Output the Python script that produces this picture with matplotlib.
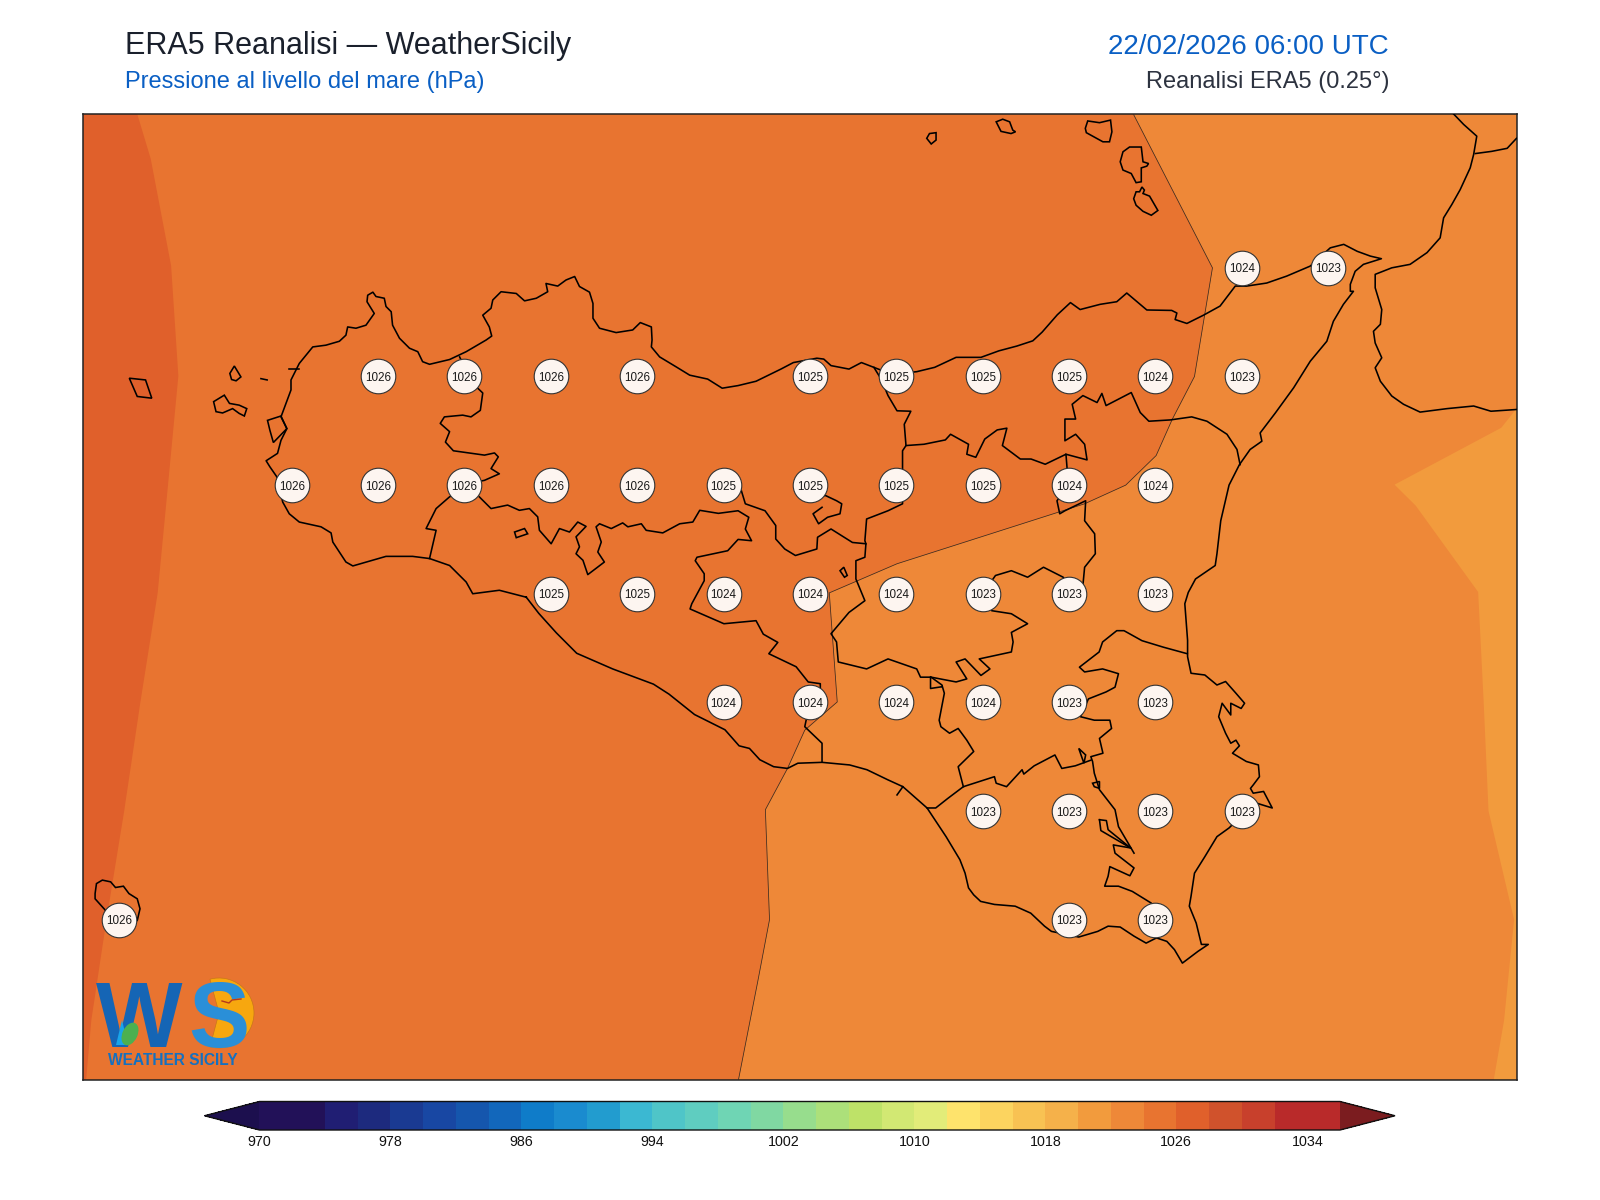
import numpy as np
import matplotlib
matplotlib.use('Agg')
import matplotlib.pyplot as plt
from matplotlib.colors import ListedColormap, BoundaryNorm
from matplotlib.colorbar import ColorbarBase
from matplotlib.patches import Wedge, Ellipse, Polygon

plt.rcParams['font.family'] = ['Liberation Sans', 'DejaVu Sans']

# Map extent
lon_min, lon_max = 11.896, 16.045
lat_min, lat_max = 36.381, 38.604

# Colour scale
levels = np.arange(970, 1038, 2)
band_colors = ['#221158', '#221158', '#201e73', '#1d2a7e', '#1a3a92', '#1847a3', '#1556ad', '#1267bb', '#0f7cc9',
               '#1a8bcf', '#229ccf', '#3bb8d2', '#4fc5c8', '#5fcdc0', '#6fd5b4', '#80d8a2', '#97dd8d', '#ace07a',
               '#bee268', '#d2e873', '#e2ec79', '#fee36c', '#fcd45f', '#f8c253', '#f5b14a', '#f29b3d', '#ee8838',
               '#e87430', '#e0602b', '#d0522c', '#c8402c', '#b92a2a', '#b92a2a']
under_color = '#1c0f4e'
over_color = '#7b1c1f'
cbar_ticks = np.arange(970, 1036, 8)

# Grid point readings
station_lon = [15.25, 15.5,
               12.75, 13.0, 13.25, 13.5, 14.0, 14.25, 14.5, 14.75, 15.0, 15.25,
               12.5, 12.75, 13.0, 13.25, 13.5, 13.75, 14.0, 14.25, 14.5, 14.75, 15.0,
               13.25, 13.5, 13.75, 14.0, 14.25, 14.5, 14.75, 15.0,
               13.75, 14.0, 14.25, 14.5, 14.75, 15.0,
               14.5, 14.75, 15.0, 15.25,
               12.0, 14.75, 15.0]
station_lat = [38.25] * 2 + [38.0] * 10 + [37.75] * 11 + [37.5] * 8 + [37.25] * 6 + [37.0] * 4 + [36.75] * 3
station_hpa = [1024, 1023,
               1026, 1026, 1026, 1026, 1025, 1025, 1025, 1025, 1024, 1023,
               1026, 1026, 1026, 1026, 1026, 1025, 1025, 1025, 1025, 1024, 1024,
               1025, 1025, 1024, 1024, 1024, 1023, 1023, 1023,
               1024, 1024, 1024, 1024, 1023, 1023,
               1023, 1023, 1023, 1023,
               1026, 1023, 1023]

# Isobars, north to south
isobar_1026 = [(12.053, 38.604), (12.092, 38.501), (12.151, 38.255), (12.172, 38.001), (12.142, 37.750),
               (12.112, 37.501), (12.062, 37.250), (12.015, 36.999), (11.964, 36.750), (11.920, 36.518),
               (11.905, 36.381)]
isobar_1024 = [(14.936, 38.604), (15.165, 38.25), (15.113, 38.0), (15.049, 37.902), (15.002, 37.818),
               (14.914, 37.75), (14.795, 37.707), (14.252, 37.569), (14.056, 37.502), (14.079, 37.251),
               (13.985, 37.186), (13.935, 37.098), (13.871, 37.003), (13.883, 36.75), (13.850, 36.612),
               (13.793, 36.381)]
isobar_1022 = [(16.045, 37.926), (16.001, 37.882), (15.692, 37.751), (15.753, 37.703), (15.934, 37.504),
               (15.950, 37.25), (15.964, 37.0), (16.038, 36.75), (16.009, 36.518), (15.979, 36.381)]

# Sicily, clockwise from Sciacca
sicily_coast = [
    (13.179, 37.492), (13.101, 37.508), (13.024, 37.500), (13.005, 37.527), (12.957, 37.565), (12.899, 37.581),
    (12.850, 37.586), (12.773, 37.586), (12.677, 37.564), (12.657, 37.573), (12.619, 37.619), (12.614, 37.640),
    (12.585, 37.654), (12.522, 37.665), (12.493, 37.684), (12.474, 37.711), (12.457, 37.769), (12.437, 37.792),
    (12.426, 37.806), (12.459, 37.823), (12.469, 37.853), (12.486, 37.880), (12.469, 37.907), (12.498, 37.969),
    (12.498, 37.992), (12.522, 38.030), (12.561, 38.068), (12.599, 38.072), (12.638, 38.081), (12.657, 38.095),
    (12.662, 38.114), (12.686, 38.111), (12.715, 38.118), (12.739, 38.145), (12.718, 38.172), (12.720, 38.187),
    (12.735, 38.194), (12.744, 38.184), (12.768, 38.180), (12.773, 38.161), (12.788, 38.149), (12.792, 38.118),
    (12.812, 38.088), (12.841, 38.065), (12.865, 38.057), (12.879, 38.034), (12.899, 38.028), (12.957, 38.039),
    (13.005, 38.057), (13.063, 38.084), (13.079, 38.093), (13.072, 38.114), (13.053, 38.141), (13.077, 38.157),
    (13.082, 38.176), (13.106, 38.195), (13.150, 38.191), (13.174, 38.174), (13.208, 38.180), (13.241, 38.195),
    (13.236, 38.214), (13.270, 38.208), (13.294, 38.222), (13.319, 38.230), (13.333, 38.207), (13.362, 38.194),
    (13.372, 38.168), (13.372, 38.134), (13.391, 38.111), (13.439, 38.101), (13.487, 38.107), (13.509, 38.124),
    (13.541, 38.114), (13.543, 38.084), (13.541, 38.068), (13.565, 38.045), (13.613, 38.022), (13.652, 38.003),
    (13.704, 37.994), (13.746, 37.973), (13.792, 37.979), (13.844, 37.989), (13.916, 38.017), (13.952, 38.032),
    (14.020, 38.042), (14.040, 38.040), (14.061, 38.025), (14.113, 38.017), (14.149, 38.032), (14.185, 38.021),
    (14.237, 38.005), (14.309, 38.011), (14.361, 38.021), (14.423, 38.044), (14.495, 38.044), (14.547, 38.059),
    (14.599, 38.070), (14.645, 38.082), (14.672, 38.102), (14.716, 38.142), (14.754, 38.170), (14.782, 38.154),
    (14.840, 38.166), (14.888, 38.172), (14.917, 38.192), (14.951, 38.169), (14.975, 38.153), (15.047, 38.152),
    (15.062, 38.146), (15.057, 38.131), (15.091, 38.122), (15.139, 38.141), (15.187, 38.162), (15.231, 38.208),
    (15.264, 38.208), (15.322, 38.215), (15.380, 38.231), (15.448, 38.254), (15.506, 38.296), (15.545, 38.304),
    (15.584, 38.288), (15.622, 38.277), (15.654, 38.271), (15.602, 38.258), (15.578, 38.242), (15.564, 38.212),
    (15.564, 38.196), (15.573, 38.196), (15.544, 38.166), (15.515, 38.127), (15.496, 38.081), (15.448, 38.035),
    (15.400, 37.974), (15.347, 37.916), (15.303, 37.870), (15.308, 37.851), (15.274, 37.832), (15.243, 37.797),
    (15.213, 37.750), (15.189, 37.668), (15.178, 37.592), (15.173, 37.565), (15.116, 37.534), (15.095, 37.503),
    (15.085, 37.477), (15.093, 37.393), (15.093, 37.355), (15.103, 37.317), (15.143, 37.313), (15.178, 37.290),
    (15.203, 37.298), (15.233, 37.271), (15.258, 37.248), (15.248, 37.236), (15.218, 37.248), (15.218, 37.221),
    (15.193, 37.248), (15.183, 37.217), (15.203, 37.179), (15.218, 37.156), (15.233, 37.163), (15.243, 37.150),
    (15.223, 37.133), (15.263, 37.114), (15.298, 37.106), (15.301, 37.079), (15.283, 37.060), (15.275, 37.052),
    (15.283, 37.041), (15.313, 37.045), (15.338, 37.007), (15.285, 37.020), (15.250, 36.990), (15.213, 36.961),
    (15.178, 36.941), (15.143, 36.895), (15.113, 36.857), (15.103, 36.804), (15.098, 36.781), (15.118, 36.742),
    (15.133, 36.693), (15.153, 36.693), (15.123, 36.677), (15.078, 36.650), (15.055, 36.681), (15.033, 36.700),
    (15.003, 36.708), (14.973, 36.696), (14.938, 36.712), (14.898, 36.733), (14.863, 36.735), (14.833, 36.723),
    (14.803, 36.716), (14.778, 36.710), (14.699, 36.723), (14.679, 36.735), (14.639, 36.765), (14.594, 36.781),
    (14.534, 36.785), (14.494, 36.792), (14.474, 36.807), (14.459, 36.823), (14.449, 36.857), (14.434, 36.888),
    (14.394, 36.941), (14.339, 37.007), (14.269, 37.056), (14.225, 37.072), (14.165, 37.095), (14.115, 37.106),
    (14.035, 37.112), (13.965, 37.110), (13.935, 37.098), (13.895, 37.102), (13.855, 37.118), (13.825, 37.144),
    (13.795, 37.150), (13.754, 37.187), (13.666, 37.222), (13.592, 37.269), (13.547, 37.292), (13.429, 37.327),
    (13.325, 37.363), (13.266, 37.410), (13.215, 37.455), (13.179, 37.492)]

calabria_coast = [
    (15.863, 38.604), (15.892, 38.580), (15.930, 38.553), (15.921, 38.511), (15.911, 38.480), (15.882, 38.430),
    (15.858, 38.396), (15.834, 38.365), (15.824, 38.319), (15.786, 38.285), (15.737, 38.258), (15.684, 38.250),
    (15.636, 38.235), (15.636, 38.204), (15.655, 38.154), (15.651, 38.120), (15.631, 38.104), (15.636, 38.077),
    (15.655, 38.043), (15.636, 38.020), (15.651, 37.989), (15.684, 37.955), (15.718, 37.936), (15.766, 37.918),
    (15.844, 37.926), (15.921, 37.932), (15.971, 37.920), (16.045, 37.924)]
calabria_north = [(15.926, 38.513), (15.973, 38.518), (16.018, 38.525), (16.045, 38.548)]

# Islands
islands = [
    [(12.274, 37.942), (12.305, 37.957), (12.320, 37.938), (12.348, 37.934), (12.370, 37.926), (12.363, 37.909),
     (12.348, 37.915), (12.329, 37.926), (12.300, 37.916), (12.281, 37.919)],
    [(12.321, 38.007), (12.334, 38.024), (12.353, 37.999), (12.339, 37.990), (12.326, 37.993)],
    [(12.030, 37.996), (12.077, 37.992), (12.095, 37.950), (12.053, 37.954)],
    [(12.430, 37.899), (12.469, 37.909), (12.486, 37.880), (12.447, 37.848), (12.437, 37.876)],
    [(14.338, 38.548), (14.346, 38.559), (14.365, 38.561), (14.365, 38.544), (14.351, 38.535)],
    [(14.539, 38.586), (14.558, 38.592), (14.578, 38.586), (14.587, 38.567), (14.595, 38.563), (14.582, 38.559),
     (14.553, 38.564)],
    [(14.797, 38.571), (14.804, 38.588), (14.838, 38.584), (14.870, 38.590), (14.874, 38.563), (14.867, 38.540),
     (14.848, 38.540), (14.800, 38.561)],
    [(14.898, 38.494), (14.906, 38.517), (14.925, 38.528), (14.959, 38.528), (14.964, 38.494), (14.980, 38.490),
     (14.975, 38.484), (14.959, 38.480), (14.959, 38.448), (14.944, 38.446), (14.930, 38.467), (14.906, 38.475)],
    [(14.937, 38.409), (14.944, 38.425), (14.954, 38.425), (14.961, 38.436), (14.968, 38.429), (14.964, 38.421),
     (14.983, 38.415), (15.007, 38.382), (14.988, 38.371), (14.964, 38.380), (14.944, 38.394)],
    [(11.931, 36.810), (11.935, 36.833), (11.952, 36.841), (11.976, 36.837), (11.990, 36.824), (12.013, 36.827),
     (12.029, 36.810), (12.053, 36.798), (12.061, 36.775), (12.053, 36.748), (12.000, 36.733), (11.957, 36.775),
     (11.931, 36.798)],
    [(14.087, 37.553), (14.098, 37.561), (14.108, 37.542), (14.100, 37.538)],
    [(13.145, 37.642), (13.174, 37.650), (13.183, 37.638), (13.150, 37.629)],
    [(14.818, 37.064), (14.838, 37.068), (14.838, 37.052), (14.823, 37.056)],
    [(14.778, 37.144), (14.798, 37.129), (14.793, 37.110)]]

# Province borders
borders = [
    [(12.986, 38.045), (13.024, 37.984), (13.053, 37.962), (13.046, 37.922), (13.019, 37.907), (12.995, 37.911),
     (12.942, 37.907), (12.930, 37.892), (12.957, 37.873), (12.945, 37.849), (12.968, 37.829), (13.058, 37.819),
     (13.087, 37.824), (13.098, 37.815), (13.077, 37.788), (13.101, 37.776), (13.058, 37.761), (13.034, 37.757),
     (12.957, 37.723), (12.918, 37.696), (12.889, 37.650), (12.918, 37.646), (12.899, 37.581)],
    [(13.043, 37.723), (13.077, 37.696), (13.125, 37.704), (13.159, 37.692), (13.188, 37.696), (13.212, 37.677),
     (13.217, 37.646), (13.251, 37.615), (13.275, 37.650), (13.304, 37.642), (13.328, 37.665), (13.352, 37.655),
     (13.323, 37.631), (13.333, 37.608), (13.323, 37.592), (13.343, 37.577), (13.357, 37.544), (13.405, 37.573),
     (13.386, 37.596), (13.396, 37.619), (13.381, 37.654), (13.391, 37.661), (13.425, 37.650), (13.458, 37.663),
     (13.473, 37.654), (13.512, 37.661), (13.526, 37.646), (13.574, 37.640), (13.623, 37.661), (13.661, 37.665),
     (13.681, 37.692), (13.735, 37.685), (13.792, 37.691), (13.823, 37.676), (13.813, 37.649), (13.831, 37.622),
     (13.792, 37.625), (13.762, 37.599), (13.673, 37.584), (13.668, 37.576), (13.694, 37.546), (13.694, 37.530),
     (13.658, 37.477), (13.653, 37.465), (13.751, 37.431), (13.844, 37.438), (13.865, 37.407), (13.907, 37.388),
     (13.881, 37.362), (13.960, 37.332), (13.995, 37.297), (14.030, 37.293), (14.030, 37.282), (14.000, 37.25),
     (13.985, 37.194), (14.035, 37.156), (14.035, 37.114)],
    [(13.797, 37.749), (13.813, 37.707), (13.870, 37.691), (13.901, 37.657), (13.901, 37.626), (13.927, 37.603),
     (13.958, 37.588), (14.020, 37.603), (14.022, 37.630), (14.061, 37.649), (14.123, 37.618), (14.162, 37.615),
     (14.159, 37.584), (14.133, 37.576), (14.133, 37.534), (14.159, 37.484), (14.113, 37.457), (14.061, 37.408),
     (14.077, 37.389), (14.082, 37.343), (14.164, 37.327), (14.226, 37.350), (14.309, 37.327), (14.320, 37.308),
     (14.351, 37.308), (14.423, 37.297), (14.454, 37.304), (14.423, 37.343), (14.449, 37.350), (14.495, 37.312),
     (14.521, 37.327), (14.490, 37.350), (14.583, 37.366), (14.588, 37.389), (14.583, 37.411), (14.630, 37.431),
     (14.583, 37.454), (14.526, 37.461), (14.500, 37.5), (14.537, 37.542), (14.583, 37.553), (14.630, 37.538),
     (14.676, 37.561), (14.733, 37.538), (14.750, 37.515), (14.790, 37.519), (14.795, 37.561), (14.826, 37.592),
     (14.824, 37.638), (14.795, 37.668), (14.798, 37.714), (14.738, 37.691), (14.723, 37.684), (14.715, 37.714),
     (14.750, 37.750), (14.744, 37.791), (14.741, 37.821), (14.681, 37.798), (14.640, 37.810), (14.609, 37.810),
     (14.557, 37.841), (14.570, 37.881), (14.542, 37.877), (14.506, 37.856), (14.480, 37.814), (14.454, 37.821),
     (14.459, 37.844), (14.407, 37.867), (14.392, 37.854), (14.330, 37.844), (14.278, 37.841)],
    [(14.185, 38.021), (14.206, 37.994), (14.226, 37.956), (14.252, 37.921), (14.292, 37.920), (14.273, 37.890),
     (14.278, 37.841), (14.268, 37.829), (14.268, 37.795), (14.268, 37.750), (14.268, 37.707), (14.226, 37.691),
     (14.164, 37.672), (14.159, 37.622), (14.162, 37.615)],
    [(14.741, 37.821), (14.802, 37.808), (14.795, 37.844), (14.769, 37.867), (14.738, 37.852), (14.738, 37.902),
     (14.769, 37.902), (14.759, 37.936), (14.790, 37.956), (14.831, 37.940), (14.845, 37.961), (14.857, 37.933),
     (14.930, 37.963), (14.956, 37.917), (14.981, 37.897), (15.043, 37.900), (15.105, 37.907), (15.149, 37.897),
     (15.207, 37.867), (15.236, 37.832), (15.245, 37.797)],
    [(15.092, 37.362), (15.023, 37.377), (14.961, 37.392), (14.909, 37.415), (14.888, 37.415), (14.847, 37.389),
     (14.837, 37.366), (14.780, 37.331), (14.795, 37.320), (14.847, 37.327), (14.893, 37.316), (14.883, 37.285),
     (14.857, 37.274), (14.806, 37.258), (14.783, 37.217), (14.823, 37.209), (14.868, 37.209), (14.873, 37.190),
     (14.838, 37.167), (14.848, 37.133), (14.813, 37.125), (14.818, 37.114), (14.823, 37.087), (14.838, 37.049),
     (14.883, 37.003), (14.893, 36.964), (14.938, 36.903)],
    [(14.838, 36.980), (14.858, 36.978), (14.863, 36.957), (14.928, 36.915), (14.878, 36.922), (14.883, 36.903),
     (14.938, 36.869), (14.926, 36.851), (14.868, 36.872), (14.863, 36.850), (14.853, 36.827), (14.893, 36.827),
     (14.933, 36.815), (14.988, 36.788), (15.000, 36.75), (15.000, 36.708)],
    [(14.838, 36.980), (14.842, 36.955), (14.928, 36.915)],
    [(14.339, 37.007), (14.364, 37.007), (14.399, 37.029), (14.444, 37.056), (14.534, 37.079), (14.539, 37.064),
     (14.569, 37.056), (14.614, 37.095), (14.619, 37.085), (14.649, 37.104), (14.709, 37.129), (14.729, 37.098),
     (14.768, 37.104), (14.813, 37.117)],
    [(14.444, 37.056), (14.429, 37.102), (14.474, 37.137), (14.454, 37.163), (14.429, 37.190), (14.404, 37.179),
     (14.379, 37.194), (14.374, 37.209), (14.389, 37.271), (14.382, 37.290), (14.349, 37.309), (14.349, 37.282),
     (14.382, 37.286)],
    [(14.004, 37.722), (14.045, 37.726), (14.077, 37.714), (14.092, 37.707), (14.087, 37.684), (14.051, 37.676),
     (14.025, 37.661), (14.009, 37.684), (14.035, 37.699)],
    [(14.269, 37.056), (14.252, 37.037)],
    [(12.491, 38.018), (12.522, 38.018)],
    [(12.411, 37.995), (12.429, 37.992)]]

title_main = 'ERA5 Reanalisi \u2014 WeatherSicily'
title_sub = 'Pressione al livello del mare (hPa)'
title_date = '22/02/2026 06:00 UTC'
title_source = 'Reanalisi ERA5 (0.25\u00b0)'

W, H = 1600, 1200


def figPos(x, y):
    """ Convert pixels from the top left corner to figure fractions. """
    return x / W, 1 - y / H


cmap = ListedColormap(band_colors).with_extremes(under=under_color, over=over_color)
norm = BoundaryNorm(levels, cmap.N)

fig = plt.figure(figsize=(W / 100, H / 100), dpi=100)
ax = fig.add_axes([83 / W, 1 - 1080 / H, 1433.5 / W, 966 / H])
ax.set_xlim(lon_min, lon_max)
ax.set_ylim(lat_min, lat_max)
ax.set_xticks([])
ax.set_yticks([])
for spine in ax.spines.values():
    spine.set_linewidth(1.1)
    spine.set_color('#222222')

# Pressure bands
ax.set_facecolor(cmap(norm(1023)))
ax.fill(*zip(*isobar_1024, (lon_min, lat_min), (lon_min, lat_max)), color=cmap(norm(1025)), lw=0, zorder=1)
ax.fill(*zip(*isobar_1026, (lon_min, lat_min), (lon_min, lat_max)), color=cmap(norm(1027)), lw=0, zorder=2)
ax.fill(*zip(*isobar_1022, (lon_max, lat_min)), color=cmap(norm(1021)), lw=0, zorder=2)
ax.plot(*zip(*isobar_1024), color='#3a2a20', lw=0.55, zorder=3)

# Coast and borders
for line in [sicily_coast, calabria_coast, calabria_north] + borders:
    ax.plot(*zip(*line), color='black', lw=1.15, solid_joinstyle='round', zorder=4)
for island in islands:
    ax.fill(*zip(*island), facecolor='none', edgecolor='black', lw=1.15, zorder=4)

# Grid point values
ax.scatter(station_lon, station_lat, s=620, facecolor='#fdf5f0', edgecolor='#333333', linewidth=0.8, zorder=5)
for lon, lat, val in zip(station_lon, station_lat, station_hpa):
    ax.text(lon, lat, str(val), ha='center', va='center_baseline', fontsize=8.4, color='#1a1a1a', zorder=6)

# Titles
fig.text(*figPos(125, 54), title_main, fontsize=22, color='#1a202c', ha='left', va='baseline')
fig.text(*figPos(124.5, 88), title_sub, fontsize=17, color='#0a5fc4', ha='left', va='baseline')
fig.text(*figPos(1389, 54), title_date, fontsize=20, color='#0a5fc4', ha='right', va='baseline')
fig.text(*figPos(1389, 88), title_source, fontsize=17, color='#2d3340', ha='right', va='baseline')

# Colour bar, its axes include the two end triangles
cax = fig.add_axes([204.5 / W, 1 - 1130 / H, 1190.5 / W, 28.5 / H])
cb = ColorbarBase(cax, cmap=cmap, norm=norm, boundaries=levels, ticks=cbar_ticks, extend='both', extendfrac=0.0509,
                  spacing='uniform', orientation='horizontal')
cb.outline.set_linewidth(1.0)
cb.outline.set_edgecolor('#111111')
cb.ax.tick_params(length=0, pad=3.5, labelsize=10.3, colors='#111111')
cb.ax.minorticks_off()

# Logo in the lower left corner
logo = fig.add_axes([90 / W, 1 - 1070 / H, 170 / W, 100 / H])
logo.set_xlim(90, 260)
logo.set_ylim(1070, 970)
logo.axis('off')
logo.add_patch(Wedge((219, 1013), 35, -105, 105, facecolor='#f7a70f', edgecolor='#c9761a', lw=0.5))
logo.text(96, 1047, 'W', fontsize=66, fontweight='bold', color='#1565b5', ha='left', va='baseline')
logo.text(188, 1047, 'S', fontsize=66, fontweight='bold', color='#2a8fd8', ha='left', va='baseline')
logo.add_patch(Polygon([(116, 1045), (122, 1020), (128, 1045)], facecolor='#18a5ea', edgecolor='none', zorder=5))
logo.add_patch(Ellipse((130, 1034), 15, 24, angle=25, facecolor='#4cb050', edgecolor='none', zorder=6))
logo.plot([222, 229, 232, 241], [1001, 1003, 1000, 999], color='#b5391c', lw=1, zorder=6)
logo.text(107.5, 1065, 'WEATHER SICILY', fontsize=11.2, fontweight='bold', color='#1470c0', ha='left', va='baseline')

fig.savefig('out.png', dpi=100)
